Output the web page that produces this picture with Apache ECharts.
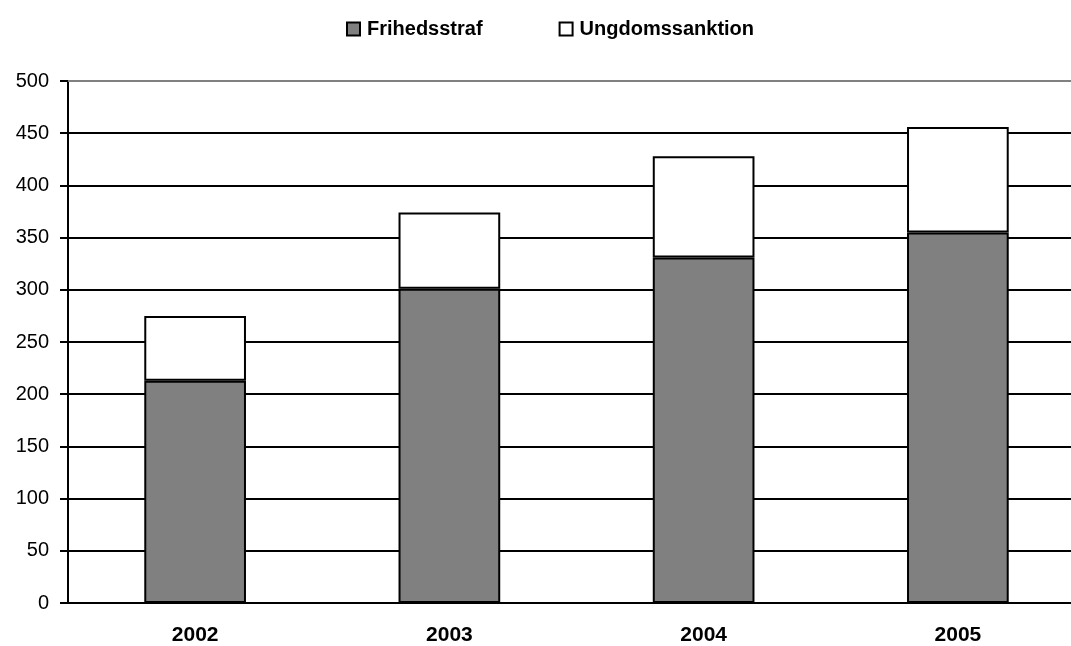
<!DOCTYPE html>
<html>
<head>
<meta charset="utf-8">
<script src="https://cdn.jsdelivr.net/npm/echarts@6/dist/echarts.min.js"></script>
<style>
  html, body { margin: 0; padding: 0; background: #fff; overflow: hidden; }
  /* plot area runs past the right edge of the window, as in the original */
  #chart { width: 1085px; height: 646px; }
</style>
</head>
<body>
<div id="chart"></div>
<script>
const years = ['2002', '2003', '2004', '2005'];
const frihedsstraf = [213, 301, 331, 355];
const ungdomssanktion = [62, 73, 97, 101];

const chart = echarts.init(document.getElementById('chart'));
const font = 'Liberation Sans, Arial, sans-serif';

chart.setOption({
  animation: false,
  legend: {
    top: 14,
    left: 341,
    itemGap: 76,
    itemWidth: 13,
    itemHeight: 13,
    icon: 'rect',
    textStyle: { fontFamily: font, fontWeight: 'bold', fontSize: 20, color: '#000', padding: [0, 0, 0, 2] },
    data: ['Frihedsstraf', 'Ungdomssanktion']
  },
  grid: { left: 68, top: 81, right: 0, bottom: 42 },
  xAxis: [
    {
      type: 'category',
      data: years,
      axisLine: { lineStyle: { color: '#000', width: 2 } },
      axisTick: { show: false },
      axisLabel: { fontFamily: font, fontWeight: 'bold', fontSize: 21, color: '#000', margin: 22 }
    },
    {
      type: 'category',
      position: 'top',
      data: years,
      axisLine: { lineStyle: { color: '#808080', width: 2 } },
      axisTick: { show: false },
      axisLabel: { show: false }
    }
  ],
  yAxis: {
    type: 'value',
    min: 0,
    max: 500,
    interval: 50,
    axisLine: { show: true, lineStyle: { color: '#000', width: 2 } },
    axisTick: { show: true, length: 8, lineStyle: { color: '#000', width: 2 } },
    axisLabel: { fontFamily: font, fontSize: 20, color: '#000', margin: 19 },
    splitLine: { lineStyle: { color: '#000', width: 2 } }
  },
  series: [
    {
      name: 'Frihedsstraf',
      type: 'bar',
      stack: 'total',
      barWidth: '40%',
      data: frihedsstraf,
      itemStyle: { color: '#808080', borderColor: '#000', borderWidth: 2 }
    },
    {
      name: 'Ungdomssanktion',
      type: 'bar',
      stack: 'total',
      barWidth: '40%',
      data: ungdomssanktion,
      itemStyle: { color: '#fff', borderColor: '#000', borderWidth: 2 }
    }
  ]
});
</script>
</body>
</html>
